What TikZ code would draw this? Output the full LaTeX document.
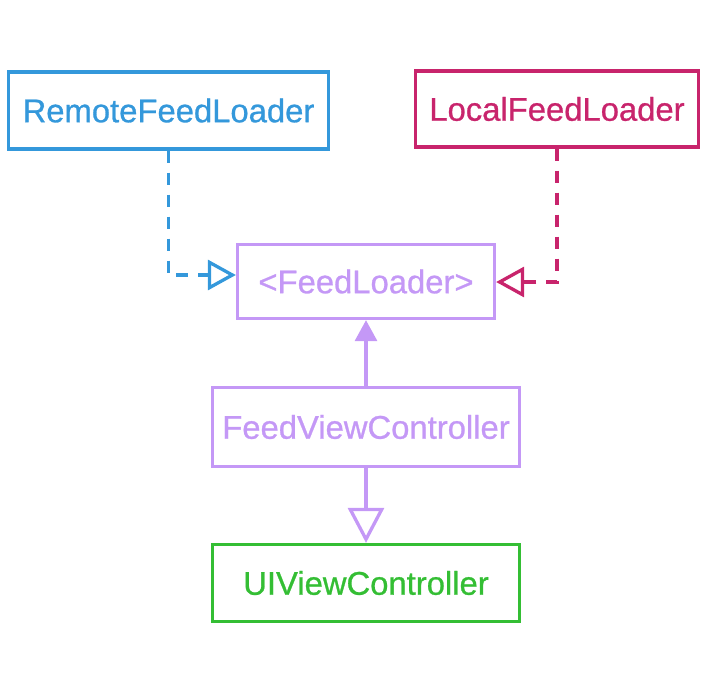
\documentclass[tikz,border=0pt]{standalone}
\usepackage{fontspec}
\setmainfont[FakeBold=0.8]{Liberation Sans}
\usetikzlibrary{arrows.meta}
\definecolor{cblue}{RGB}{52,152,219}
\definecolor{cpink}{RGB}{200,36,108}
\definecolor{cpurple}{RGB}{196,152,246}
\definecolor{cgreen}{RGB}{52,190,52}
\tikzset{
  box/.style={draw, line width=3.3pt, inner sep=0pt, font=\fontsize{32.8}{38}\selectfont, anchor=center},
  dashlink/.style={line width=3.3pt, dash pattern=on 12pt off 10pt, -{Triangle[open,width=30pt,length=28pt,line width=3.3pt]}},
  uselink/.style={line width=3.3pt, -{Triangle[width=22pt,length=21pt]}},
  inhlink/.style={line width=3.3pt, -{Triangle[open,width=36pt,length=35pt,line width=3.3pt]}},
}
\begin{document}
\begin{tikzpicture}[x=1pt,y=-1pt]
\useasboundingbox (0,0) rectangle (714,688);
\node[box, cblue, minimum width=320pt, minimum height=77pt] (remote) at (168.5,110.5) {RemoteFeedLoader};
\node[box, cpink, minimum width=283pt, minimum height=76pt] (local) at (557,109) {LocalFeedLoader};
\node[box, cpurple, minimum width=257pt, minimum height=74pt] (feed) at (366,281.5) {<FeedLoader>};
\node[box, cpurple, minimum width=307pt, minimum height=79pt] (fvc) at (366,427) {FeedViewController};
\node[box, cgreen, minimum width=307pt, minimum height=77pt] (uivc) at (366,583) {UIViewController};
\coordinate (rc) at (168.5,275);
\coordinate (lc) at (557,282);
\draw[dashlink, cblue] (remote.south) -- (rc) -- (rc -| feed.west);
\draw[dashlink, cpink] (local.south) -- (lc) -- (lc -| feed.east);
\draw[uselink, cpurple] (fvc.north) -- (feed.south);
\draw[inhlink, cpurple] (fvc.south) -- (uivc.north);
\end{tikzpicture}
\end{document}
